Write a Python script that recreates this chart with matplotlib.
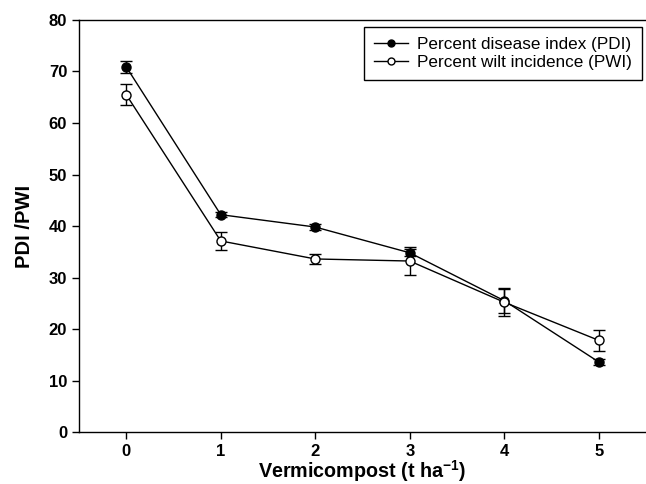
import matplotlib
matplotlib.use("Agg")
import matplotlib.pyplot as plt
from matplotlib.lines import Line2D

plt.rcParams['font.family'] = ['Liberation Sans', 'DejaVu Sans']
plt.rcParams['mathtext.fontset'] = 'custom'
plt.rcParams['mathtext.bf'] = 'Liberation Sans:bold'
plt.rcParams['mathtext.rm'] = 'Liberation Sans:bold'
plt.rcParams['mathtext.default'] = 'bf'

# data
dose = [0, 1, 2, 3, 4, 5]
pdi = [70.9, 42.2, 39.8, 34.8, 25.5, 13.6]
pdi_err = [1.2, 0.5, 0.6, 0.7, 2.4, 0.6]
pwi = [65.5, 37.1, 33.6, 33.2, 25.2, 17.8]
pwi_err = [2.0, 1.8, 0.9, 2.7, 2.6, 2.0]
labels = ['Percent disease index (PDI)', 'Percent wilt incidence (PWI)']

fig = plt.figure(figsize=(6.46, 4.84), dpi=100)
ax = fig.add_axes([0.1223, 0.1074, 0.8777, 0.8513])

ax.errorbar(dose, pdi, yerr=pdi_err, color='black', lw=1.0, marker='o',
            ms=6.5, mfc='black', mec='black', capsize=4.5, elinewidth=1.0,
            capthick=1.0, zorder=3)
ax.errorbar(dose, pwi, yerr=pwi_err, color='black', lw=1.0, marker='o',
            ms=6.5, mfc='white', mec='black', capsize=4.5, elinewidth=1.0,
            capthick=1.0, zorder=3)

ax.set_xlim(-0.5, 5.5)
ax.set_ylim(0, 80)
ax.set_xticks(dose)
ax.set_yticks(range(0, 81, 10))
ax.tick_params(direction='out', length=5, width=1, labelsize=12)
for lab in ax.get_xticklabels() + ax.get_yticklabels():
    lab.set_fontweight('bold')
ax.spines['right'].set_visible(False)
for s in ['left', 'bottom', 'top']:
    ax.spines[s].set_linewidth(1.0)

ax.set_xlabel('Vermicompost (t ha$^{-1}$)', fontsize=14.2, fontweight='bold', va='center')
ax.xaxis.set_label_coords(0.5, -0.095)
ax.set_ylabel('PDI /PWI', fontsize=14.5, fontweight='bold', labelpad=11)

handles = [Line2D([], [], color='black', lw=1.0, marker='o', ms=5, mfc='black', mec='black'),
           Line2D([], [], color='black', lw=1.0, marker='o', ms=5, mfc='white', mec='black')]
leg = ax.legend(handles, labels, loc='upper right', bbox_to_anchor=(0.993, 0.983),
                borderaxespad=0, fontsize=12.3, fancybox=False, edgecolor='black',
                handlelength=2.0, framealpha=1, borderpad=0.6, labelspacing=0.15,
                handletextpad=0.5)
leg.get_frame().set_linewidth(1.0)

fig.savefig('out.png', dpi=100)
